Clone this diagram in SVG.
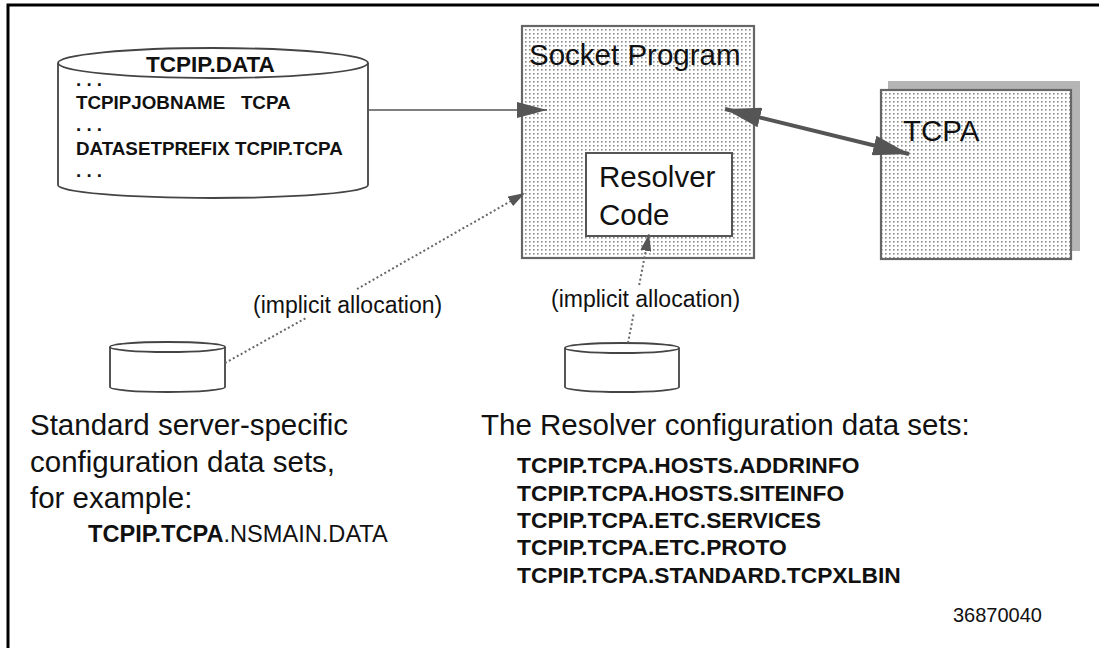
<svg xmlns="http://www.w3.org/2000/svg" width="1099" height="648" viewBox="0 0 1099 648">
  <style>
    text { font-family: "Liberation Sans", Arial, sans-serif; fill: #111; }
    .b { font-weight: bold; }
    .big { font-size: 29.5px; }
    .lbl { font-size: 23px; }
    .ds { font-size: 22.8px; font-weight: bold; }
    .job { font-size: 18.8px; font-weight: bold; }
    .cyl { fill: #fff; stroke: #444; stroke-width: 1.8; }
    .box { stroke: #666; stroke-width: 2.2; }
    .solid { stroke: #555; stroke-width: 1.6; fill: none; }
    .thick { stroke: #555; stroke-width: 4; fill: none; }
    .dotted { stroke: #666; stroke-width: 2; stroke-dasharray: 2 2.5; fill: none; }
  </style>
  <defs>
    <pattern id="dots" width="4" height="4" patternUnits="userSpaceOnUse">
      <rect width="4" height="4" fill="#fff"/>
      <rect x="1" y="1" width="1.6" height="1.6" fill="#8c8c8c"/>
    </pattern>
    <marker id="headSolid" markerUnits="userSpaceOnUse" markerWidth="30" markerHeight="16" refX="30" refY="8" orient="auto">
      <path d="M0,0 L30,8 L0,16 z" fill="#555"/>
    </marker>
    <marker id="headBig" markerUnits="userSpaceOnUse" markerWidth="36" markerHeight="20" refX="36" refY="10" orient="auto-start-reverse">
      <path d="M0,0 L36,10 L0,20 z" fill="#555"/>
    </marker>
    <marker id="headSmall" markerUnits="userSpaceOnUse" markerWidth="17" markerHeight="11" refX="17" refY="5.5" orient="auto">
      <path d="M0,0 L17,5.5 L0,11 z" fill="#555"/>
    </marker>
  </defs>

  <!-- page frame -->
  <rect x="8" y="5" width="1200" height="800" fill="#fff" stroke="#000" stroke-width="3"/>

  <!-- TCPIP.DATA data set -->
  <g id="tcpip-data">
    <path class="cyl" d="M58,63 L58,185 A155,13 0 0 0 368,185 L368,63"/>
    <ellipse class="cyl" cx="213" cy="63" rx="155" ry="15"/>
    <text class="b" x="210.5" y="72" font-size="22.5" text-anchor="middle">TCPIP.DATA</text>
    <text class="job" x="76" y="86">. . .</text>
    <text class="job" x="76" y="109" xml:space="preserve">TCPIPJOBNAME   TCPA</text>
    <text class="job" x="76" y="131">. . .</text>
    <text class="job" x="76" y="155">DATASETPREFIX TCPIP.TCPA</text>
    <text class="job" x="76" y="177">. . .</text>
  </g>

  <!-- Socket program with embedded resolver -->
  <g id="socket-program">
    <rect class="box" x="522" y="26" width="232" height="232" fill="url(#dots)"/>
    <text class="big" x="529" y="65">Socket Program</text>
  </g>
  <g id="resolver-code">
    <rect x="586" y="153" width="146" height="83" fill="#fff" stroke="#555" stroke-width="2"/>
    <text class="big" x="599" y="187">Resolver</text>
    <text class="big" x="599" y="225">Code</text>
  </g>

  <!-- TCPA address space -->
  <g id="tcpa">
    <rect x="888" y="81" width="192" height="170" fill="#b5b5b5"/>
    <rect class="box" x="881" y="90" width="190" height="169" fill="url(#dots)"/>
    <text class="big" x="903" y="141">TCPA</text>
  </g>

  <!-- server-specific configuration data set -->
  <g id="server-config">
    <path class="cyl" d="M110,347 L110,387 A57.5,5 0 0 0 225,387 L225,347"/>
    <ellipse class="cyl" cx="167.5" cy="347" rx="57.5" ry="5"/>
    <text class="big" x="30" y="435">Standard server-specific</text>
    <text class="big" x="30" y="472">configuration data sets,</text>
    <text class="big" x="30" y="508">for example:</text>
    <text x="88" y="542" font-size="23.6"><tspan class="b">TCPIP.TCPA</tspan>.NSMAIN.DATA</text>
  </g>

  <!-- resolver configuration data set -->
  <g id="resolver-config">
    <path class="cyl" d="M565,348 L565,387 A57,5 0 0 0 679,387 L679,348"/>
    <ellipse class="cyl" cx="622" cy="348" rx="57" ry="5"/>
    <text class="big" x="481" y="435">The Resolver configuration data sets:</text>
    <text class="ds" x="517" y="473">TCPIP.TCPA.HOSTS.ADDRINFO</text>
    <text class="ds" x="517" y="501">TCPIP.TCPA.HOSTS.SITEINFO</text>
    <text class="ds" x="517" y="528">TCPIP.TCPA.ETC.SERVICES</text>
    <text class="ds" x="517" y="555">TCPIP.TCPA.ETC.PROTO</text>
    <text class="ds" x="517" y="583">TCPIP.TCPA.STANDARD.TCPXLBIN</text>
  </g>

  <!-- figure number -->
  <text x="953" y="622" font-size="20">36870040</text>

  <!-- connectors -->
  <g id="connectors">
    <line class="solid" x1="368" y1="110" x2="547" y2="110" marker-end="url(#headSolid)"/>
    <line class="thick" x1="725" y1="109" x2="909" y2="154" marker-start="url(#headBig)" marker-end="url(#headBig)"/>
    <line class="dotted" x1="225" y1="363" x2="306" y2="318"/>
    <line class="dotted" x1="357" y1="289" x2="525" y2="193" marker-end="url(#headSmall)"/>
    <text class="lbl" x="253" y="313">(implicit allocation)</text>
    <line class="dotted" x1="628" y1="343" x2="633.6" y2="314"/>
    <line class="dotted" x1="639.2" y1="285" x2="649" y2="234" marker-end="url(#headSmall)"/>
    <text class="lbl" x="551" y="307">(implicit allocation)</text>
  </g>
</svg>
